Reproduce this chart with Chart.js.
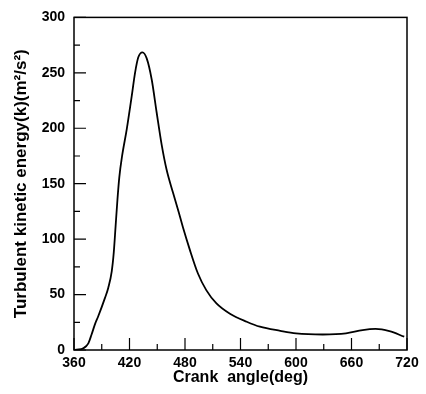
<!DOCTYPE html>
<html><head><meta charset="utf-8">
<script src="https://cdn.jsdelivr.net/npm/chart.js@4/dist/chart.umd.min.js"></script>
<style>html,body{margin:0;padding:0;background:#fff}#wrap{width:426px;height:394px}</style>
</head><body><div id="wrap"><canvas id="c" width="426" height="394"></canvas></div>
<script>
const crankAngle = [360,363,370,375.5,379,383,386,393.5,397,400.8,403,405,407,409,412,417,422.4,426,429.5,434,438.6,444,449.4,454.8,460,467,473,478,485,494,503,514,528.6,546.7,561,583,600,629,654,672,686,701,717];
const tke = [0,0.3,1.5,6,14,24,30,47,56,71,88,112,136,156,175,199,229,250,264,268.5,263,244,214,185,163,142,125,110,91,69,54,42,32.7,25.5,21,17.3,15,14,15,18,19,17,12];
const xTicks = [360,420,480,540,600,660,720];
const yTicks = [0,50,100,150,200,250,300];

const boxPlugin = {
  id:'box',
  afterDatasetsDraw(chart){
    const {ctx, chartArea:a, scales:{x,y}} = chart;
    ctx.save();
    ctx.strokeStyle='#000';
    ctx.lineWidth=1.5;
    ctx.strokeRect(a.left,a.top,a.right-a.left,a.bottom-a.top);
    ctx.lineWidth=1.2;
    ctx.beginPath();
    for(let v=360; v<=720; v+=30){
      const px=x.getPixelForValue(v);
      const len = (v%60===0)?12:6;
      ctx.moveTo(px,a.bottom); ctx.lineTo(px,a.bottom-len);
    }
    for(let v=0; v<=300; v+=25){
      const py=y.getPixelForValue(v);
      const len = (v%50===0)?12:6;
      ctx.moveTo(a.left,py); ctx.lineTo(a.left+len,py);
    }
    ctx.stroke();
    ctx.restore();
  }
};

new Chart(document.getElementById('c'),{
  type:'line',
  data:{datasets:[{data:crankAngle.map((v,i)=>({x:v,y:tke[i]})),borderColor:'#000',borderWidth:1.8,pointRadius:0,cubicInterpolationMode:'monotone',fill:false}]},
  options:{
    responsive:false,animation:false,
    layout:{padding:{left:0,top:14,right:19,bottom:0}},
    plugins:{legend:{display:false},tooltip:{enabled:false}},
    scales:{
      x:{type:'linear',min:360,max:720,
        afterBuildTicks:s=>{s.ticks=xTicks.map(v=>({value:v}));},
        afterFit:s=>{s.height=44;},
        grid:{display:false,drawTicks:false},border:{display:false},
        ticks:{color:'#000',padding:5,maxRotation:0,autoSkip:false,font:{family:'Liberation Sans',weight:'bold',size:14}},
        title:{display:true,text:'Crank  angle(deg)',color:'#000',font:{family:'Liberation Sans',weight:'bold',size:16},padding:{top:0,bottom:7}}
      },
      y:{type:'linear',min:0,max:300,
        afterBuildTicks:s=>{s.ticks=yTicks.map(v=>({value:v}));},
        afterFit:s=>{s.width=74;},
        grid:{display:false,drawTicks:false},border:{display:false},
        ticks:{color:'#000',padding:9,autoSkip:false,font:{family:'Liberation Sans',weight:'bold',size:14}},
        title:{display:true,text:'Turbulent kinetic energy(k)(m²/s²)',color:'#000',font:{family:'Liberation Sans',weight:'bold',size:17},padding:{top:11,bottom:0}}
      }
    }
  },
  plugins:[boxPlugin]
});
</script></body></html>
